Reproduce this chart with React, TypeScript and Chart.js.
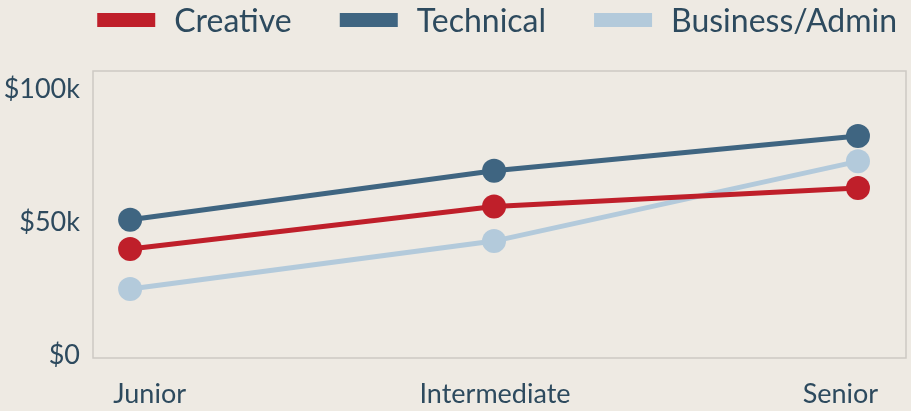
import { useEffect, useRef } from "react";
import { Chart, registerables } from "chart.js";

Chart.register(...registerables);

const categories = ["Junior", "Intermediate", "Senior"];
const seriesNames = ["Creative", "Technical", "Business/Admin"];
const creative = [40000, 56000, 63000];
const technical = [51000, 69500, 82500];
const business = [25000, 43000, 73000];
const yTicks = [0, 50000, 100000];
const yTickLabels = ["$0", "$50k", "$100k"];

const BG = "#EEEAE3";
const TEXT = "#2D4A5E";
const COLORS = ["#BF1F2A", "#3F6581", "#B3CADB"];
const FONT = "Lato, 'Open Sans', sans-serif";

const bgPlugin = {
  id: "bg",
  beforeDraw(chart: any) {
    const { ctx, width, height } = chart;
    ctx.save();
    ctx.fillStyle = BG;
    ctx.fillRect(0, 0, width, height);
    ctx.restore();
  },
  beforeDatasetsDraw(chart: any) {
    const { ctx, chartArea } = chart;
    ctx.save();
    ctx.strokeStyle = "#CDC9C3";
    ctx.lineWidth = 1.5;
    ctx.strokeRect(chartArea.left, chartArea.top, chartArea.right - chartArea.left, chartArea.bottom - chartArea.top);
    ctx.restore();
  },
};

const legendPlugin = {
  id: "customLegend",
  afterDraw(chart: any) {
    const ctx = chart.ctx;
    ctx.save();
    ctx.font = `32px ${FONT}`;
    const boxW = 58, boxH = 14, gap = 19, itemGap = 48;
    const items = chart.data.datasets.map((ds: any) => ({
      label: ds.label,
      color: ds.borderColor,
      w: ctx.measureText(ds.label).width,
    }));
    const total =
      items.reduce((s: number, it: any) => s + boxW + gap + it.w, 0) + itemGap * (items.length - 1);
    let x = chart.width - 14 - total;
    const cy = 20;
    items.forEach((it: any) => {
      ctx.fillStyle = it.color;
      ctx.fillRect(x, cy - boxH / 2, boxW, boxH);
      ctx.fillStyle = TEXT;
      ctx.textBaseline = "middle";
      ctx.textAlign = "left";
      ctx.fillText(it.label, x + boxW + gap, cy + 2);
      x += boxW + gap + it.w + itemGap;
    });
    ctx.restore();
  },
};

export default function App() {
  const ref = useRef<HTMLCanvasElement>(null);
  useEffect(() => {
    if (!ref.current) return;
    const series = [creative, technical, business];
    const chart = new Chart(ref.current, {
      type: "line",
      data: {
        datasets: series.map((vals, si) => ({
          label: seriesNames[si],
          data: vals.map((v, i) => ({ x: i, y: v })),
          borderColor: COLORS[si],
          backgroundColor: COLORS[si],
          borderWidth: 5,
          pointRadius: 12,
          pointBorderWidth: 0,
          pointHoverRadius: 12,
          tension: 0,
          xAxisID: "x",
        })),
      },
      options: {
        responsive: false,
        animation: false,
        layout: { autoPadding: false, padding: { top: 71, right: 5, bottom: 0, left: 0 } },
        plugins: { legend: { display: false }, tooltip: { enabled: false } },
        scales: {
          x: {
            type: "linear",
            display: false,
            min: -0.102,
            max: 2.132,
            ticks: { display: false },
            afterFit: (s: any) => {
              s.height = 0;
              s.paddingLeft = 0;
              s.paddingRight = 0;
            },
          },
          xl: {
            type: "linear",
            position: "bottom",
            min: -0.164,
            max: 2.19,
            afterBuildTicks: (s: any) => {
              s.ticks = categories.map((_, i) => ({ value: i }));
            },
            ticks: {
              callback: (v: any) => categories[v as number] ?? "",
              font: { family: FONT, size: 27 },
              color: TEXT,
              padding: 20,
              maxRotation: 0,
              autoSkip: false,
            },
            grid: { display: false, drawTicks: false },
            border: { display: false },
            afterFit: (s: any) => {
              s.height = 53;
              s.paddingLeft = 0;
              s.paddingRight = 0;
            },
          },
          y: {
            type: "linear",
            min: -1000,
            max: 107000,
            afterBuildTicks: (s: any) => {
              s.ticks = yTicks.map((v) => ({ value: v }));
            },
            ticks: {
              callback: (v: any) => yTickLabels[yTicks.indexOf(v as number)] ?? "",
              font: { family: FONT, size: 27 },
              color: TEXT,
              padding: 13,
            },
            grid: { display: false, drawTicks: false },
            border: { display: false },
            afterFit: (s: any) => {
              s.width = 93;
              s.paddingTop = 0;
              s.paddingBottom = 0;
            },
          },
        },
      } as any,
      plugins: [bgPlugin, legendPlugin],
    });
    return () => chart.destroy();
  }, []);
  return (
    <div style={{ position: "fixed", left: 0, top: 0, width: 911, height: 411, background: BG }}>
      <canvas ref={ref} width={911} height={411} style={{ display: "block" }} />
    </div>
  );
}
